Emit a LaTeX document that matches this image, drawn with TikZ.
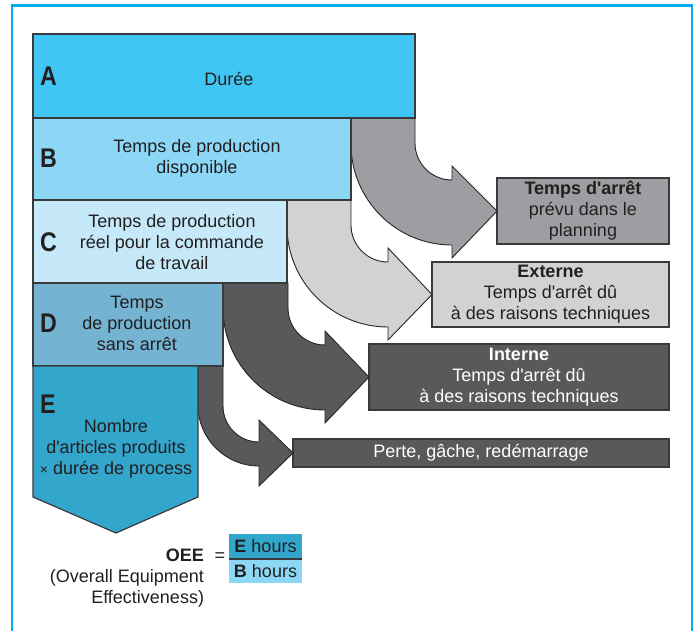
\documentclass[tikz,border=0pt]{standalone}
\usepackage{fontspec}
\usepackage{graphicx}
\setmainfont{Liberation Sans}[Ligatures=TeXOff]
\definecolor{frameblue}{HTML}{00AEEF}
\definecolor{cA}{HTML}{41C6F3}
\definecolor{cB}{HTML}{8CD7F6}
\definecolor{cC}{HTML}{C5E9F8}
\definecolor{cD}{HTML}{74B4D2}
\definecolor{cE}{HTML}{33A6CC}
\definecolor{gMid}{HTML}{9D9EA1}
\definecolor{gLight}{HTML}{D1D2D4}
\definecolor{gDark}{HTML}{58595B}
\definecolor{ink}{HTML}{231F20}
\definecolor{edge}{HTML}{3A3A3C}
\newcommand\Lt[1]{\scalebox{0.86}[1]{\fontsize{27}{27}\selectfont\bfseries #1}}
\begin{document}
\begin{tikzpicture}[x=1pt,y=-1pt,
  every node/.style={font=\fontsize{18}{21}\selectfont, text=ink, inner sep=0pt, outer sep=0pt},
  boxnode/.style={draw=edge, line width=1.2pt, anchor=north west},
  txt/.style={align=center},
  lett/.style={anchor=west},
  bigarrow/.style={draw=black!85, line width=0.9pt, line join=miter},
  frac/.style={minimum width=73pt, align=center}
]
\useasboundingbox (0,0) rectangle (697,630);
% frame
\draw[frameblue, line width=2.2pt] (12,640) -- (12,5.5) -- (692,5.5) -- (692,640);

% right-hand boxes
\node[boxnode, fill=gMid, minimum width=172pt, minimum height=66pt, txt] (t1) at (497,178)
  {\textbf{Temps d'arrêt}\\prévu dans le\\planning};
\node[boxnode, fill=gLight, minimum width=237pt, minimum height=65pt, txt] (t2) at (432,262)
  {\textbf{Externe}\\Temps d'arrêt dû\\à des raisons techniques};
\node[boxnode, fill=gDark, minimum width=300pt, minimum height=66pt, txt, text=white] (t3) at (369,344)
  {\textbf{Interne}\\Temps d'arrêt dû\\à des raisons techniques};
\node[boxnode, fill=gDark, minimum width=376pt, minimum height=28pt, text=white] (t4) at (293,439)
  {Perte, gâche, redémarrage};

% bent arrows
\draw[bigarrow, fill=gMid] (351,118) -- (415,118) -- (415,143)
  arc[start angle=180, end angle=90, radius=37] -- (452,166) -- (t1.west)
  -- (452,258) -- (452,245) arc[start angle=90, end angle=180, radius=101] -- cycle;
\draw[bigarrow, fill=gLight] (287,200) -- (351,200) -- (351,225)
  arc[start angle=180, end angle=90, radius=37] -- (388,248) -- (t2.west)
  -- (388,340) -- (388,327) arc[start angle=90, end angle=180, radius=101] -- cycle;
\draw[bigarrow, fill=gDark] (223,283) -- (288,283) -- (288,308)
  arc[start angle=180, end angle=90, radius=37] -- (325,331) -- (t3.west)
  -- (325,423) -- (325,410) arc[start angle=90, end angle=180, radius=102] -- cycle;
\draw[bigarrow, fill=gDark] (198,366) -- (223,366) -- (223,406)
  arc[start angle=180, end angle=90, radius=36] -- (259,420) -- (t4.west)
  -- (259,486) -- (259,466) arc[start angle=90, end angle=180, radius=61] -- cycle;

% left stack
\node[boxnode, fill=cA, minimum width=382pt, minimum height=84pt] (A) at (33,34) {};
\node[boxnode, fill=cB, minimum width=318pt, minimum height=82pt] (B) at (33,118) {};
\node[boxnode, fill=cC, minimum width=254pt, minimum height=83pt] (C) at (33,200) {};
\node[boxnode, fill=cD, minimum width=190pt, minimum height=83pt] (D) at (33,283) {};
\draw[draw=edge, line width=1.2pt, fill=cE] (33,366) coordinate (E) -- (198,366) -- (198,497)
  -- (116,533) -- (33,497) -- cycle;

\node[lett] (lA) at (40,76) {\Lt{A}};
\node[lett] (lB) at (40,158) {\Lt{B}};
\node[lett] (lC) at (40,242) {\Lt{C}};
\node[lett] (lD) at (40,323) {\Lt{D}};
\node[lett] (lE) at (40,404) {\Lt{E}};

\node[txt] (tA) at (229,79) {Durée};
\node[txt] (tB) at (197,158.5) {Temps de production\\disponible};
\node[txt] (tC) at (172,242.5) {Temps de production\\réel pour la commande\\de travail};
\node[txt] (tD) at (137,323.5) {Temps\\de production\\sans arrêt};
\node[txt] (tE) at (116,449) {Nombre\\d'articles produits\\{\fontsize{14}{14}\selectfont ×} durée de process};

% formula
\node[frac, fill=cE, minimum height=25pt] (Eh) at (265.5,546.5) {\textbf{E} hours};
\node[frac, fill=cB, minimum height=24pt, anchor=north] (Bh) at (Eh.south) {\textbf{B} hours};
\draw[edge, line width=1.5pt] (Eh.south west) -- (Eh.south east);
\node (eq) at (220,557) {=};
\node[anchor=east, align=right] (oee) at (204,578.5)
  {\textbf{OEE}\\(Overall Equipment\\Effectiveness)};
\end{tikzpicture}
\end{document}
